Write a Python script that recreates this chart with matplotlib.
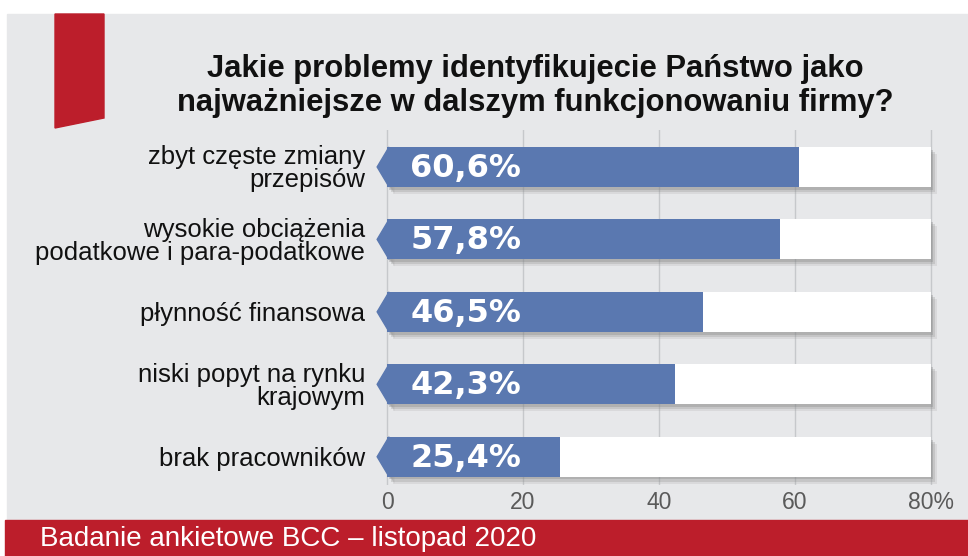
import matplotlib
matplotlib.use("Agg")
from matplotlib import pyplot as plt
from matplotlib.patches import Rectangle, Polygon
from matplotlib import patheffects as pe

categories = ["zbyt częste zmiany\nprzepisów",
              "wysokie obciążenia\npodatkowe i para-podatkowe",
              "płynność finansowa",
              "niski popyt na rynku\nkrajowym",
              "brak pracowników"]
values = [60.6, 57.8, 46.5, 42.3, 25.4]
xticks = [0, 20, 40, 60, 80]
xtick_labels = ["0", "20", "40", "60", "80%"]
track_max = 80

title = "Jakie problemy identyfikujecie Państwo jako\nnajważniejsze w dalszym funkcjonowaniu firmy?"
footer = "Badanie ankietowe BCC – listopad 2020"

W, H = 968, 556
blue = "#5a78b0"
red = "#bc1e2b"
bg = "#e7e8ea"

plt.rcParams['font.family'] = ['Liberation Sans', 'DejaVu Sans']
fig = plt.figure(figsize=(W / 100, H / 100), dpi=100)
fig.patch.set_facecolor("white")


def px_rect(x, y, w, h, color):
    # prostokat w pikselach (od gory)
    fig.patches.append(Rectangle((x / W, 1 - (y + h) / H), w / W, h / H,
                                 transform=fig.transFigure, color=color, zorder=-2))


# tlo, stopka i czerwona wstazka
px_rect(7, 14, W - 7, 506, bg)
px_rect(5, 520, W - 5, 36, red)
rib = [(55, 14), (104, 14), (104, 118), (55, 128)]
fig.patches.append(Polygon([(x / W, 1 - y / H) for x, y in rib], closed=True,
                           transform=fig.transFigure, color=red, zorder=-1))

# osie: 0 -> 387px, 80 -> 931px
x0px, x80px = 387, 931
ppu = (x80px - x0px) / 80
xmin, xmax = -1.8, 82
top_px, bot_px = 130, 485
ax = fig.add_axes([(x0px + xmin * ppu) / W, 1 - bot_px / H,
                   (xmax - xmin) * ppu / W, (bot_px - top_px) / H])
ax.set_zorder(5)
ax.set_facecolor("none")
ax.set_xlim(xmin, xmax)
ax.set_ylim(4.39, -0.51)

bh = 0.55
ypos = list(range(len(values)))
# miekki cien pod paskami
shadow = [pe.SimplePatchShadow(offset=(4, -5), shadow_rgbFace="#9a9a9a", alpha=0.18),
          pe.SimplePatchShadow(offset=(3, -3.5), shadow_rgbFace="#8a8a8a", alpha=0.25),
          pe.SimplePatchShadow(offset=(1.5, -2), shadow_rgbFace="#808080", alpha=0.3),
          pe.Normal()]

ax.barh(ypos, [track_max] * len(values), height=bh, color="white", zorder=2,
        path_effects=shadow)
for y in ypos:
    # grot z lewej strony paska
    tip = Polygon([(0.3, y - bh / 2), (-1.45, y), (0.3, y + bh / 2)], closed=True,
                  color=blue, zorder=2.5, path_effects=shadow)
    ax.add_patch(tip)
ax.barh(ypos, values, height=bh, color=blue, zorder=3)

for y, v in zip(ypos, values):
    lab = "{:.1f}%".format(v).replace(".", ",")
    ax.text(3.4, y + 0.02, lab, color="white", fontsize=23, fontweight="bold",
            family=["DejaVu Sans"], ha="left", va="center", zorder=4)

ax.set_xticks(xticks)
ax.set_xticklabels(xtick_labels, fontsize=16.5, color="#5a5a5a")
ax.set_yticks(ypos)
ax.set_yticklabels(categories, fontsize=18.5, color="#111111", linespacing=0.95)
ax.tick_params(length=0)
ax.tick_params(axis="x", pad=4)
ax.tick_params(axis="y", pad=7)
for s in ax.spines.values():
    s.set_visible(False)

ax.grid(axis="x", color="#c6c8cb", linewidth=1)
ax.set_axisbelow(True)

fig.text(535 / W, 1 - 86 / H, title, ha="center", va="center", fontsize=22.3,
         fontweight="bold", color="#111111", linespacing=1.2)
fig.text(40 / W, 1 - 539 / H, footer, ha="left", va="center", fontsize=20,
         color="white")

plt.savefig("out.png", dpi=100, facecolor=fig.get_facecolor())
